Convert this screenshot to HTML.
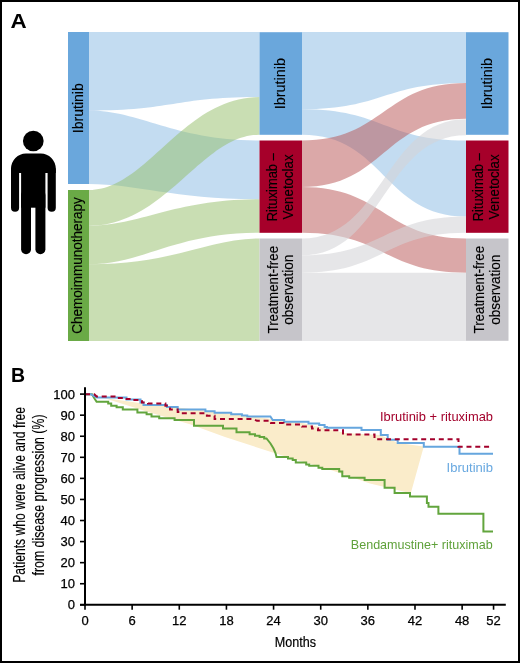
<!DOCTYPE html>
<html><head><meta charset="utf-8"><style>
html,body{margin:0;padding:0;background:#fff;}
svg{display:block;font-family:"Liberation Sans",sans-serif;will-change:transform;}
</style></head><body>
<svg width="520" height="663" viewBox="0 0 520 663">
<rect x="1" y="1" width="518" height="661" fill="#fff" stroke="#000" stroke-width="2"/>
<text x="10.6" y="27.5" font-weight="bold" font-size="19.5" textLength="16.2" lengthAdjust="spacingAndGlyphs">A</text>
<text x="11.0" y="382.2" font-weight="bold" font-size="19.5">B</text>
<path d="M89,32 C174.25,32 174.25,32 259.5,32 L259.5,97 C174.25,97 174.25,110.5 89,110.5 Z" fill="#6aa7dc" fill-opacity="0.4"/>
<path d="M89,110.5 C140.15,110.5 174.25,140.5 259.5,140.5 L259.5,199.2 C174.25,199.2 136.74,184 89,184 Z" fill="#6aa7dc" fill-opacity="0.4"/>
<path d="M89.0,190.0 L92.3,189.9 L95.5,189.6 L98.6,189.1 L101.7,188.5 L104.8,187.7 L107.8,186.7 L110.9,185.6 L113.9,184.3 L116.9,182.8 L119.9,181.2 L123.0,179.5 L126.0,177.6 L129.1,175.6 L132.1,173.4 L135.2,171.2 L138.3,168.8 L141.4,166.3 L144.5,163.7 L147.6,161.0 L150.8,158.3 L153.9,155.5 L157.1,152.6 L160.3,149.7 L163.6,146.7 L166.9,143.8 L170.2,140.8 L173.6,137.8 L177.0,134.8 L180.5,131.8 L184.0,128.9 L187.6,126.0 L191.3,123.2 L195.0,120.4 L198.9,117.7 L202.8,115.1 L206.9,112.6 L211.0,110.2 L215.3,108.0 L219.7,105.9 L224.2,104.0 L228.9,102.3 L233.7,100.7 L238.6,99.5 L243.7,98.4 L248.8,97.7 L254.1,97.2 L259.5,97.0 L259.5,134.8 L256.3,134.9 L253.1,135.1 L250.0,135.5 L247.0,136.1 L243.9,136.9 L240.9,137.8 L237.9,138.8 L234.9,140.1 L231.9,141.5 L228.8,143.0 L225.8,144.7 L222.8,146.5 L219.7,148.5 L216.6,150.6 L213.5,152.9 L210.4,155.2 L207.3,157.7 L204.2,160.2 L201.0,162.9 L197.8,165.6 L194.6,168.4 L191.4,171.2 L188.2,174.1 L184.9,177.0 L181.6,179.9 L178.2,182.9 L174.8,185.9 L171.4,188.8 L167.9,191.7 L164.3,194.6 L160.7,197.5 L157.0,200.3 L153.2,203.0 L149.4,205.7 L145.4,208.3 L141.3,210.7 L137.2,213.0 L132.9,215.2 L128.5,217.3 L124.0,219.1 L119.4,220.8 L114.6,222.2 L109.7,223.5 L104.7,224.4 L99.6,225.2 L94.3,225.6 L89.0,225.7 Z" fill="#93bd67" fill-opacity="0.5"/>
<path d="M89,225.7 C140.15,225.7 174.25,199.2 259.5,199.2 L259.5,232.8 C174.25,232.8 143.56,264.3 89,264.3 Z" fill="#93bd67" fill-opacity="0.5"/>
<path d="M89,264.3 C174.25,264.3 208.35,238.5 259.5,238.5 L259.5,341 C174.25,341 174.25,341 89,341 Z" fill="#93bd67" fill-opacity="0.5"/>
<path d="M302,32 C384.00,32 384.00,32 466,32 L466,83 C384.00,83 384.00,109.2 302,109.2 Z" fill="#6aa7dc" fill-opacity="0.4"/>
<path d="M302,109.2 C384.00,109.2 384.00,140.5 466,140.5 L466,216.6 C384.00,216.6 384.00,134.8 302,134.8 Z" fill="#6aa7dc" fill-opacity="0.4"/>
<path d="M302,140.5 C384.00,140.5 384.00,83 466,83 L466,118.8 C384.00,118.8 384.00,187 302,187 Z" fill="#b75151" fill-opacity="0.5"/>
<path d="M302,187 C384.00,187 384.00,238.5 466,238.5 L466,272.7 C384.00,272.7 384.00,232.8 302,232.8 Z" fill="#b75151" fill-opacity="0.5"/>
<path d="M302,238.5 C384.00,238.5 384.00,119.2 466,119.2 L466,135.2 C384.00,135.2 384.00,255.4 302,255.4 Z" fill="#d4d4d7" fill-opacity="0.58"/>
<path d="M302,255.4 C384.00,255.4 384.00,216.6 466,216.6 L466,232.8 C384.00,232.8 384.00,272.7 302,272.7 Z" fill="#d4d4d7" fill-opacity="0.58"/>
<path d="M302.0,272.7 L306.1,272.7 L310.2,272.7 L314.2,272.7 L318.1,272.7 L321.9,272.7 L325.7,272.7 L329.3,272.7 L333.0,272.7 L336.5,272.7 L340.0,272.7 L343.5,272.7 L346.9,272.7 L350.3,272.7 L353.6,272.7 L356.9,272.7 L360.2,272.7 L363.4,272.7 L366.6,272.7 L369.8,272.7 L373.0,272.7 L376.1,272.7 L379.3,272.7 L382.4,272.7 L385.6,272.7 L388.7,272.7 L391.9,272.7 L395.0,272.7 L398.2,272.7 L401.4,272.7 L404.6,272.7 L407.8,272.7 L411.1,272.7 L414.4,272.7 L417.7,272.7 L421.1,272.7 L424.5,272.7 L428.0,272.7 L431.5,272.7 L435.0,272.7 L438.7,272.7 L442.3,272.7 L446.1,272.7 L449.9,272.7 L453.8,272.7 L457.8,272.7 L461.9,272.7 L466.0,272.7 L466.0,341.0 L461.9,341.0 L457.8,341.0 L453.8,341.0 L449.9,341.0 L446.1,341.0 L442.3,341.0 L438.7,341.0 L435.0,341.0 L431.5,341.0 L428.0,341.0 L424.5,341.0 L421.1,341.0 L417.7,341.0 L414.4,341.0 L411.1,341.0 L407.8,341.0 L404.6,341.0 L401.4,341.0 L398.2,341.0 L395.0,341.0 L391.9,341.0 L388.7,341.0 L385.6,341.0 L382.4,341.0 L379.3,341.0 L376.1,341.0 L373.0,341.0 L369.8,341.0 L366.6,341.0 L363.4,341.0 L360.2,341.0 L356.9,341.0 L353.6,341.0 L350.3,341.0 L346.9,341.0 L343.5,341.0 L340.0,341.0 L336.5,341.0 L333.0,341.0 L329.3,341.0 L325.7,341.0 L321.9,341.0 L318.1,341.0 L314.2,341.0 L310.2,341.0 L306.1,341.0 L302.0,341.0 Z" fill="#d4d4d7" fill-opacity="0.58"/>
<rect x="68" y="32" width="21" height="152" fill="#6aa7dc"/>
<rect x="68" y="190" width="21" height="151" fill="#6aaa46"/>
<rect x="259.5" y="32.2" width="42.5" height="102.60000000000001" fill="#6aa7dc"/>
<rect x="259.5" y="140.5" width="42.5" height="92.30000000000001" fill="#a6002a"/>
<rect x="259.5" y="238.5" width="42.5" height="102.30000000000001" fill="#c6c5ca"/>
<rect x="466" y="32.2" width="42.5" height="102.60000000000001" fill="#6aa7dc"/>
<rect x="466" y="140.5" width="42.5" height="92.30000000000001" fill="#a6002a"/>
<rect x="466" y="238.5" width="42.5" height="102.30000000000001" fill="#c6c5ca"/>
<text transform="translate(82.6,108.2) rotate(-90)" text-anchor="middle" font-size="14.8" fill="#000" textLength="50" lengthAdjust="spacingAndGlyphs" stroke="#000" stroke-width="0.15">Ibrutinib</text>
<text transform="translate(82.3,265.4) rotate(-90)" text-anchor="middle" font-size="14.8" fill="#000" textLength="136.5" lengthAdjust="spacingAndGlyphs" stroke="#000" stroke-width="0.15">Chemoimmunotherapy</text>
<text transform="translate(285.3,83.6) rotate(-90)" text-anchor="middle" font-size="14.8" fill="#000" textLength="51.5" lengthAdjust="spacingAndGlyphs" stroke="#000" stroke-width="0.15">Ibrutinib</text>
<text transform="translate(276.9,187.3) rotate(-90)" text-anchor="middle" font-size="14.8" fill="#000" textLength="68" lengthAdjust="spacingAndGlyphs" stroke="#000" stroke-width="0.15">Rituximab –</text>
<text transform="translate(292.7,186.9) rotate(-90)" text-anchor="middle" font-size="14.8" fill="#000" textLength="65" lengthAdjust="spacingAndGlyphs" stroke="#000" stroke-width="0.15">Venetoclax</text>
<text transform="translate(277.5,289.7) rotate(-90)" text-anchor="middle" font-size="14.8" fill="#000" textLength="87.5" lengthAdjust="spacingAndGlyphs" stroke="#000" stroke-width="0.15">Treatment-free</text>
<text transform="translate(293.4,289.7) rotate(-90)" text-anchor="middle" font-size="14.8" fill="#000" textLength="70" lengthAdjust="spacingAndGlyphs" stroke="#000" stroke-width="0.15">observation</text>
<text transform="translate(491.8,83.6) rotate(-90)" text-anchor="middle" font-size="14.8" fill="#000" textLength="51.5" lengthAdjust="spacingAndGlyphs" stroke="#000" stroke-width="0.15">Ibrutinib</text>
<text transform="translate(483.4,187.3) rotate(-90)" text-anchor="middle" font-size="14.8" fill="#000" textLength="68" lengthAdjust="spacingAndGlyphs" stroke="#000" stroke-width="0.15">Rituximab –</text>
<text transform="translate(499.2,186.9) rotate(-90)" text-anchor="middle" font-size="14.8" fill="#000" textLength="65" lengthAdjust="spacingAndGlyphs" stroke="#000" stroke-width="0.15">Venetoclax</text>
<text transform="translate(484.0,289.7) rotate(-90)" text-anchor="middle" font-size="14.8" fill="#000" textLength="87.5" lengthAdjust="spacingAndGlyphs" stroke="#000" stroke-width="0.15">Treatment-free</text>
<text transform="translate(499.9,289.7) rotate(-90)" text-anchor="middle" font-size="14.8" fill="#000" textLength="70" lengthAdjust="spacingAndGlyphs" stroke="#000" stroke-width="0.15">observation</text>
<g fill="#000"><circle cx="33.3" cy="141" r="10.35"/><path d="M11,173 L11,169 A15,15.5 0 0 1 26,153.5 L40.8,153.5 A15,15.5 0 0 1 55.8,169 L55.8,173 Z"/><rect x="11" y="166" width="8.1" height="45.8" rx="4.05"/><rect x="47.6" y="166" width="8.2" height="45.8" rx="4.1"/><rect x="21.1" y="166" width="24.3" height="41.7"/><rect x="21.1" y="190" width="9.9" height="64.3" rx="4.95"/><rect x="35.4" y="190" width="10" height="64.3" rx="5"/></g>
<polygon points="103,397.7 150,412.5 190,424.2 225,437 275.8,453.5 330.8,470 370,483.5 410.8,493.2 423.8,446.5 398,443 380,435 372,434.5 345,433 300,422.5 200,410 150,404.5" fill="#faecca"/>
<polyline points="85,394.3 92,394.3 92,394.3 93,396 94.5,398.5 96.6,401.8 108.2,401.8 108.2,403.4 111.2,403.4 111.2,405.7 116.6,405.7 116.6,407.2 122.8,407.2 122.8,409.5 137.4,409.5 137.4,412.6 146.6,412.6 146.6,414.2 151.5,414.2 151.5,416.5 159.2,416.5 159.2,418.3 174.6,418.3 174.6,419.9 194,419.9 194,425.8 223,425.8 223,428.5 236.5,428.5 236.5,432.3 249.6,432.3 249.6,434.2 255,434.2 255,435.7 259.6,435.7 259.6,436.9 264.2,436.9 264.2,438.5 266.5,438.5 270.5,443.5 273.5,448.5 275.5,453 276.5,456.9 288,456.9 288,458.5 292.7,458.5 292.7,460 295.8,460 295.8,462.5 306.2,462.5 306.2,464.6 309.2,464.6 309.2,465.7 318.5,465.7 318.5,467.7 322.3,467.7 322.3,468.9 339.2,468.9 339.2,471.5 342.3,471.5 342.3,476.2 349.2,476.2 349.2,477.7 364.6,477.7 364.6,480 384.6,480 384.6,487.7 394.6,487.7 394.6,493.1 410,493.1 410,496.5 426.9,496.5 426.9,503.1 428.5,503.1 428.5,506.8 438.4,506.8 438.4,513.8 483.4,513.8 483.4,531.6 493,531.6 493,531.6" fill="none" stroke="#62a53d" stroke-width="2.0"/>
<polyline points="85,394.3 91,394.3 91,394.3 94,396 97,397.5 126.5,397.5 126.5,399.5 140.5,399.5 140.5,402.6 143.5,402.6 143.5,404.9 166.9,404.9 166.9,407 177.7,407 177.7,409.6 205.4,409.6 205.4,411.2 214.6,411.2 214.6,412.7 231.2,412.7 231.2,414.2 241.9,414.2 241.9,415.4 247.3,415.4 247.3,416.5 270.4,416.5 270.4,416.5 272.7,420 284.2,420 284.2,421.8 308.5,421.8 308.5,423.4 319.2,423.4 319.2,424.9 324.6,424.9 324.6,426.9 326.9,426.9 326.9,427.7 361.5,427.7 361.5,430 380.8,430 380.8,434.9 387.7,434.9 387.7,439.7 397.7,439.7 397.7,443.1 423.8,443.1 423.8,446.8 459.5,446.8 459.5,453.7 493,453.7 493,453.7" fill="none" stroke="#66a6de" stroke-width="2.0"/>
<polyline points="85,394.3 94.3,394.3 94.3,394.3 96.6,396.5 117.4,396.5 117.4,398 124.6,398 124.6,399 132.8,399 132.8,400 142,400 142,402.6 148,402.6 148,403.5 165.4,403.5 165.4,405.8 170,405.8 170,409.6 177.7,409.6 177.7,411.9 180.8,411.9 180.8,413.2 206.9,413.2 206.9,415.8 214.6,415.8 214.6,419 253.5,419 253.5,419 257,420.8 271,420.8 271,423 283.5,423 283.5,424.6 302,424.6 302,426.5 312,426.5 312,428.5 318,428.5 318,430.3 343,430.3 343,434.4 374.5,434.4 374.5,439.2 458.5,439.2 458.5,446.7 492.2,446.7 492.2,446.7" fill="none" stroke="#a3002b" stroke-width="2.0" stroke-dasharray="5 3.8"/>
<g stroke="#000" stroke-width="2" fill="none">
<line x1="85" y1="387.2" x2="85" y2="605.8"/>
<line x1="80" y1="604.8" x2="505.8" y2="604.8"/>
<line x1="80" y1="604.80" x2="85" y2="604.80" stroke-width="1.6"/>
<line x1="80" y1="583.73" x2="85" y2="583.73" stroke-width="1.6"/>
<line x1="80" y1="562.66" x2="85" y2="562.66" stroke-width="1.6"/>
<line x1="80" y1="541.59" x2="85" y2="541.59" stroke-width="1.6"/>
<line x1="80" y1="520.52" x2="85" y2="520.52" stroke-width="1.6"/>
<line x1="80" y1="499.45" x2="85" y2="499.45" stroke-width="1.6"/>
<line x1="80" y1="478.38" x2="85" y2="478.38" stroke-width="1.6"/>
<line x1="80" y1="457.31" x2="85" y2="457.31" stroke-width="1.6"/>
<line x1="80" y1="436.24" x2="85" y2="436.24" stroke-width="1.6"/>
<line x1="80" y1="415.17" x2="85" y2="415.17" stroke-width="1.6"/>
<line x1="80" y1="394.10" x2="85" y2="394.10" stroke-width="1.6"/>
<line x1="85.00" y1="604.8" x2="85.00" y2="609.7" stroke-width="1.6"/>
<line x1="132.14" y1="604.8" x2="132.14" y2="609.7" stroke-width="1.6"/>
<line x1="179.28" y1="604.8" x2="179.28" y2="609.7" stroke-width="1.6"/>
<line x1="226.43" y1="604.8" x2="226.43" y2="609.7" stroke-width="1.6"/>
<line x1="273.57" y1="604.8" x2="273.57" y2="609.7" stroke-width="1.6"/>
<line x1="320.71" y1="604.8" x2="320.71" y2="609.7" stroke-width="1.6"/>
<line x1="367.85" y1="604.8" x2="367.85" y2="609.7" stroke-width="1.6"/>
<line x1="414.99" y1="604.8" x2="414.99" y2="609.7" stroke-width="1.6"/>
<line x1="462.14" y1="604.8" x2="462.14" y2="609.7" stroke-width="1.6"/>
<line x1="493.56" y1="604.8" x2="493.56" y2="609.7" stroke-width="1.6"/>
</g>
<g font-size="13" fill="#000" stroke="#000" stroke-width="0.25" text-anchor="end">
<text x="75" y="609.40">0</text>
<text x="75" y="588.33">10</text>
<text x="75" y="567.26">20</text>
<text x="75" y="546.19">30</text>
<text x="75" y="525.12">40</text>
<text x="75" y="504.05">50</text>
<text x="75" y="482.98">60</text>
<text x="75" y="461.91">70</text>
<text x="75" y="440.84">80</text>
<text x="75" y="419.77">90</text>
<text x="75" y="398.70">100</text>
</g>
<g font-size="13" fill="#000" stroke="#000" stroke-width="0.25" text-anchor="middle">
<text x="85.00" y="625.4">0</text>
<text x="132.14" y="625.4">6</text>
<text x="179.28" y="625.4">12</text>
<text x="226.43" y="625.4">18</text>
<text x="273.57" y="625.4">24</text>
<text x="320.71" y="625.4">30</text>
<text x="367.85" y="625.4">36</text>
<text x="414.99" y="625.4">42</text>
<text x="462.14" y="625.4">48</text>
<text x="493.56" y="625.4">52</text>
</g>
<text x="295.5" y="647.2" font-size="14.5" text-anchor="middle" fill="#000" stroke="#000" stroke-width="0.2" textLength="41.3" lengthAdjust="spacingAndGlyphs">Months</text>
<text transform="translate(24.9,494.9) rotate(-90)" text-anchor="middle" font-size="16.8" fill="#000" textLength="175.7" lengthAdjust="spacingAndGlyphs" stroke="#000" stroke-width="0.15">Patients who were alive and free</text>
<text transform="translate(43.6,495) rotate(-90)" text-anchor="middle" font-size="16.8" fill="#000" textLength="161" lengthAdjust="spacingAndGlyphs" stroke="#000" stroke-width="0.15">from disease progression (%)</text>
<text x="380" y="421" font-size="13" fill="#a3002b" textLength="113" lengthAdjust="spacingAndGlyphs">Ibrutinib + rituximab</text>
<text x="446.6" y="471.5" font-size="13" fill="#68a8e0" textLength="46.4" lengthAdjust="spacingAndGlyphs">Ibrutinib</text>
<text x="350.8" y="548.5" font-size="13" fill="#5fa13a" textLength="142" lengthAdjust="spacingAndGlyphs">Bendamustine+ rituximab</text>
</svg>
</body></html>
